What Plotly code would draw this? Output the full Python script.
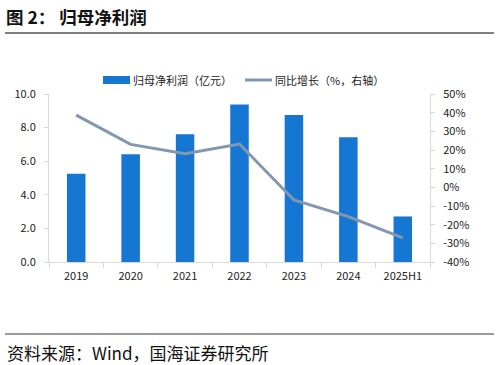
import plotly.graph_objects as go

categories = ["2019", "2020", "2021", "2022", "2023", "2024", "2025H1"]
profit = [5.25, 6.42, 7.61, 9.38, 8.75, 7.42, 2.71]
growth = [38.7, 23.0, 18.0, 23.2, -6.8, -15.7, -27.1]
left_ticks = [0, 2, 4, 6, 8, 10]
right_ticks = [-40, -30, -20, -10, 0, 10, 20, 30, 40, 50]
bar_name = "归母净利润（亿元）"
line_name = "同比增长（%，右轴）"

FONT = "Noto Sans CJK SC, Noto Sans, sans-serif"
BAR_COLOR = "#1677D3"
LINE_COLOR = "#8497B0"
W, H = 498, 365
L, R, T, B = 49, 430, 94, 262

def px(x):
    return (x - L) / (R - L)

def py(y):
    return (B - y) / (B - T)

fig = go.Figure()
fig.add_trace(go.Bar(
    x=categories, y=profit, name=bar_name,
    marker=dict(color=BAR_COLOR, line=dict(width=0)),
    yaxis="y",
))
fig.add_trace(go.Scatter(
    x=categories, y=growth, name=line_name,
    mode="lines", line=dict(color=LINE_COLOR, width=3),
    yaxis="y2",
))

fig.update_layout(
    width=W, height=H,
    margin=dict(l=L, r=W - R, t=T, b=H - B, pad=0),
    paper_bgcolor="white", plot_bgcolor="white",
    font=dict(family=FONT, size=11, color="#222"),
    bargap=0.66,
    showlegend=False,
    xaxis=dict(
        type="category", showgrid=False, showline=True, linecolor="#D9D9D9",
        ticks="outside", ticklen=5, tickcolor="#D9D9D9", tickson="boundaries",
        tickfont=dict(size=11, color="#222"), ticklabelstandoff=4,
    ),
    yaxis=dict(
        range=[0, 10], tickvals=left_ticks,
        ticktext=[f"{v:.1f}" for v in left_ticks],
        showgrid=False, zeroline=False, showline=True, linecolor="#D9D9D9",
        ticks="outside", ticklen=4, tickcolor="#D9D9D9",
        tickfont=dict(size=11, color="#222"), ticklabelstandoff=6,
    ),
    yaxis2=dict(
        range=[-40, 50], tickvals=right_ticks,
        ticktext=[f"{v}%" for v in right_ticks],
        overlaying="y", side="right",
        showgrid=False, zeroline=False, showline=True, linecolor="#D9D9D9",
        ticks="outside", ticklen=4, tickcolor="#D9D9D9",
        tickfont=dict(size=11, color="#222"), ticklabelstandoff=6,
    ),
)

# Manual legend
LY = 80
fig.add_shape(type="rect", xref="paper", yref="paper",
              x0=px(103), x1=px(130), y0=py(LY - 4), y1=py(LY + 4),
              fillcolor=BAR_COLOR, line=dict(width=0))
fig.add_annotation(text=bar_name, xref="paper", yref="paper",
                   x=px(131), y=py(LY), xanchor="left", yanchor="middle",
                   showarrow=False, font=dict(family=FONT, size=11, color="#222"))
fig.add_shape(type="line", xref="paper", yref="paper",
              x0=px(245), x1=px(272), y0=py(LY), y1=py(LY),
              line=dict(color=LINE_COLOR, width=3))
fig.add_annotation(text=line_name, xref="paper", yref="paper",
                   x=px(273), y=py(LY), xanchor="left", yanchor="middle",
                   showarrow=False, font=dict(family=FONT, size=11, color="#222"))

# Title
fig.add_annotation(
    text="<b>图 2： 归母净利润</b>", xref="paper", yref="paper",
    x=px(4), y=py(16), xanchor="left", yanchor="middle", showarrow=False,
    font=dict(family=FONT, size=17.5, color="#111"),
)
# Title underline
fig.add_shape(type="line", xref="paper", yref="paper",
              x0=px(5), x1=px(494), y0=py(33), y1=py(33),
              line=dict(color="#7F7F7F", width=2))
# Bottom rule
fig.add_shape(type="line", xref="paper", yref="paper",
              x0=px(5), x1=px(494), y0=py(334), y1=py(334),
              line=dict(color="#333333", width=1))
# Source
fig.add_annotation(
    text="资料来源：Wind，国海证券研究所", xref="paper", yref="paper",
    x=px(5), y=py(352), xanchor="left", yanchor="middle", showarrow=False,
    font=dict(family=FONT, size=17, color="#111"),
)

fig.write_html("out.html", config={"displayModeBar": False},
               post_script="document.body.style.margin='0';")
